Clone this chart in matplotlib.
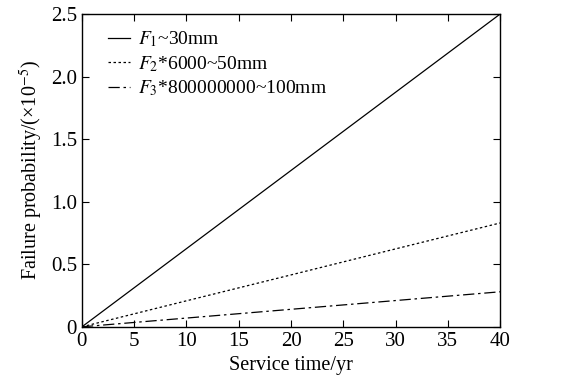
import matplotlib
matplotlib.use('Agg')
import matplotlib.pyplot as plt

# service time (yr) and failure probability (x1e-5)
years = [0, 10, 20, 30, 40]
f1_vals = [0, 0.625, 1.25, 1.875, 2.5]
f2_vals = [0, 0.208, 0.415, 0.623, 0.83]
f3_vals = [0, 0.07, 0.14, 0.21, 0.28]
labels = [r'$F_1$~30mm', r'$F_2$*6000~50mm', r'$F_3$*800000000~100mm']
xticks = [0, 5, 10, 15, 20, 25, 30, 35, 40]
yticks = [0, 0.5, 1.0, 1.5, 2.0, 2.5]
ytick_labels = ['0', '0.5', '1.0', '1.5', '2.0', '2.5']

plt.rcParams['font.family'] = 'Liberation Serif'
plt.rcParams['mathtext.fontset'] = 'stix'
plt.rcParams['font.size'] = 14

fig = plt.figure(figsize=(5.69, 3.9), dpi=100)
ax = fig.add_axes([0.144, 0.162, 0.735, 0.802])

ax.plot(years, f1_vals, color='black', lw=0.9, label=labels[0])
ax.plot(years, f2_vals, color='black', lw=0.9, linestyle=(0, (2, 2)), label=labels[1])
ax.plot(years, f3_vals, color='black', lw=0.9, linestyle=(0, (9, 3, 2, 3)), label=labels[2])

ax.set_xlim(0, 40)
ax.set_ylim(0, 2.5)
ax.set_xticks(xticks)
ax.set_yticks(yticks)
ax.set_yticklabels(ytick_labels)
ax.tick_params(direction='in', top=True, right=True, length=5, width=0.8, labelsize=15)
for s in ax.spines.values():
    s.set_linewidth(1.0)

ax.set_xlabel('Service time/yr', fontsize=14.5)
ax.set_ylabel('Failure probability/(×10$^{-5}$)', fontsize=14.5)

ax.legend(loc='upper left', frameon=False, handlelength=1.15, handletextpad=0.4,
          labelspacing=0.25, bbox_to_anchor=(0.025, 1.0), borderaxespad=0.4, fontsize=14)

fig.savefig('out.png', dpi=100)
